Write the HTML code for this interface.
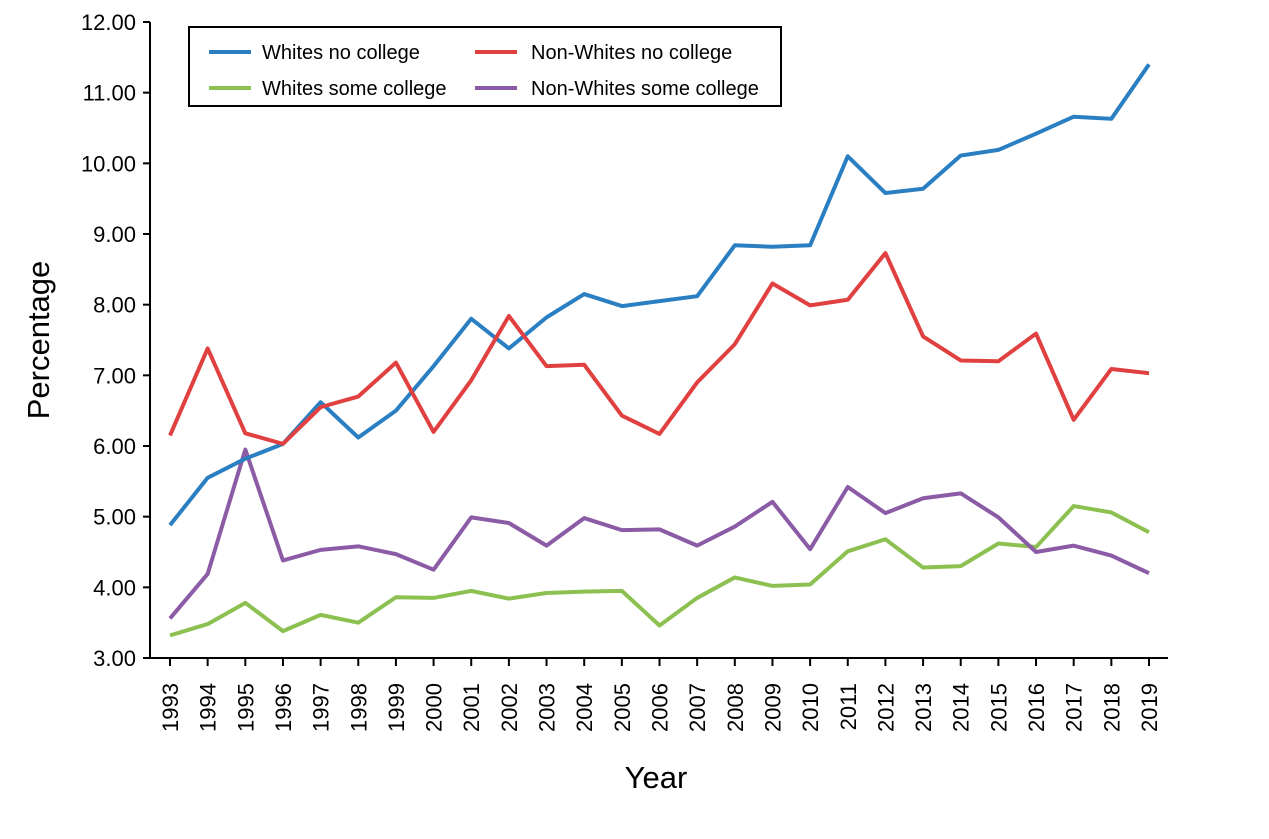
<!DOCTYPE html>
<html><head><meta charset="utf-8"><style>
body{margin:0;background:#fff;}
svg{display:block;font-family:"Liberation Sans","DejaVu Sans",sans-serif;}
</style></head><body>
<svg id="chart" width="1269" height="839"></svg>
<script>
const years=[1993,1994,1995,1996,1997,1998,1999,2000,2001,2002,2003,2004,2005,2006,2007,2008,2009,2010,2011,2012,2013,2014,2015,2016,2017,2018,2019];
const whitesNoCollege=[4.88,5.55,5.82,6.03,6.62,6.12,6.50,7.13,7.80,7.38,7.82,8.15,7.98,8.05,8.12,8.84,8.82,8.84,10.10,9.58,9.64,10.11,10.19,10.42,10.66,10.63,11.40];
const nonWhitesNoCollege=[6.15,7.38,6.18,6.03,6.55,6.70,7.18,6.20,6.93,7.84,7.13,7.15,6.43,6.17,6.90,7.44,8.30,7.99,8.07,8.73,7.55,7.21,7.20,7.59,6.37,7.09,7.03];
const whitesSomeCollege=[3.32,3.48,3.78,3.38,3.61,3.50,3.86,3.85,3.95,3.84,3.92,3.94,3.95,3.46,3.85,4.14,4.02,4.04,4.51,4.68,4.28,4.30,4.62,4.57,5.15,5.06,4.78];
const nonWhitesSomeCollege=[3.56,4.19,5.95,4.38,4.53,4.58,4.47,4.25,4.99,4.91,4.59,4.98,4.81,4.82,4.59,4.86,5.21,4.54,5.42,5.05,5.26,5.33,4.99,4.50,4.59,4.45,4.20];
const yTicks=[3,4,5,6,7,8,9,10,11,12];

const NS="http://www.w3.org/2000/svg";
const svg=document.getElementById('chart');
function mk(t,a,p){const e=document.createElementNS(NS,t);for(const k in a)e.setAttribute(k,a[k]);(p||svg).appendChild(e);return e;}
const x=i=>170+i*(1149-170)/(years.length-1);
const y=v=>658-(v-3)*(658-22)/9;

// axes
const ax=mk('path',{d:'M150,22 L150,658 L1168,658',fill:'none',stroke:'#000','stroke-width':2});


yTicks.forEach(v=>{
  const t=mk('line',{x1:143,x2:150,y1:y(v),y2:y(v),stroke:'#000','stroke-width':2});
  
  
  const l=mk('text',{x:136,y:y(v)+8,'text-anchor':'end','font-size':22});
  l.textContent=v.toFixed(2);
  
  
});
years.forEach((yr,i)=>{
  const t=mk('line',{x1:x(i),x2:x(i),y1:658,y2:666,stroke:'#000','stroke-width':2});
  
  
  const l=mk('text',{x:0,y:0,'text-anchor':'end','font-size':22,transform:`translate(${x(i)+8},683) rotate(-90)`});
  l.textContent=yr;
  
  
});
const xt=mk('text',{x:656,y:788,'text-anchor':'middle','font-size':31});
xt.textContent='Year';


const yt=mk('text',{x:0,y:0,'text-anchor':'middle','font-size':31,transform:'translate(49,340) rotate(-90)'});
yt.textContent='Percentage';



const series=[
 {n:'Whites no college',d:whitesNoCollege,c:'#2a7fc2',lx:209,ly:52,key:'whites-no-college'},
 {n:'Non-Whites no college',d:nonWhitesNoCollege,c:'#e0403f',lx:475,ly:52,key:'non-whites-no-college'},
 {n:'Whites some college',d:whitesSomeCollege,c:'#8cc152',lx:209,ly:88,key:'whites-some-college'},
 {n:'Non-Whites some college',d:nonWhitesSomeCollege,c:'#8c5ba6',lx:475,ly:88,key:'non-whites-some-college'}
];
[2,3,0,1].forEach(k=>{
  const s=series[k];
  const p=mk('polyline',{points:s.d.map((v,i)=>x(i)+','+y(v)).join(' '),fill:'none',stroke:s.c,'stroke-width':4,'stroke-linejoin':'round'});
  
  
});
const lg=mk('rect',{x:189,y:27,width:592,height:79,fill:'#fff',stroke:'#000','stroke-width':2});


series.forEach(s=>{
  const l=mk('line',{x1:s.lx,x2:s.lx+42,y1:s.ly,y2:s.ly,stroke:s.c,'stroke-width':4});
  
  
  const t=mk('text',{x:s.lx+(s.lx<300?53:56),y:s.ly+7,'font-size':20});
  t.textContent=s.n;
  
  
});
</script>
</body></html>
